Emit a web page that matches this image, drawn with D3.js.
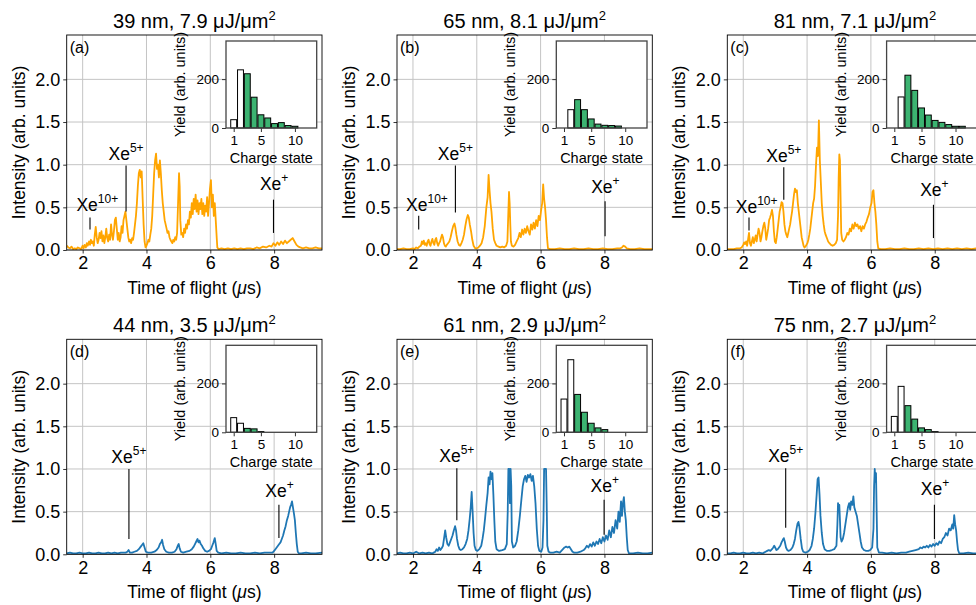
<!DOCTYPE html>
<html><head><meta charset="utf-8">
<script src="https://cdn.jsdelivr.net/npm/d3@7"></script>
<style>
body{margin:0;background:#fff}
svg{display:block}
text{font-family:"Liberation Sans",Arial,Helvetica,sans-serif;fill:#000}
</style>
</head><body><svg id="chart" width="976" height="605"></svg>
<script>
// ---------- data ----------
const xTicks = [2, 4, 6, 8];
const yTicks = [0, 0.5, 1.0, 1.5, 2.0];
const insetXTicks = [1, 5, 10];
const insetYTicks = [0, 200];
const panelLetters = ["(a)", "(b)", "(c)", "(d)", "(e)", "(f)"];
const wavelengths = [39, 65, 81, 44, 61, 75];
const fluences = ["7.9", "8.1", "7.1", "3.5", "2.9", "2.7"];
const charge = [1, 2, 3, 4, 5, 6, 7, 8, 9, 10, 11, 12];
const yieldA = [34, 238, 222, 126, 54, 41, 18, 22, 10, 7, 0, 0];
const yieldB = [0, 75, 116, 75, 37, 16, 11, 10, 8, 0, 0, 0];
const yieldC = [0, 127, 216, 154, 82, 53, 31, 23, 14, 7, 7, 0];
const yieldD = [60, 37, 16, 14, 3, 0, 0, 0, 0, 0, 0, 0];
const yieldE = [136, 297, 155, 82, 37, 18, 11, 0, 0, 0, 0, 0];
const yieldF = [65, 188, 109, 54, 18, 11, 3, 0, 0, 0, 0, 0];

// annotations: [superscript, text x, text baseline y, line x, line top, line bottom]
const annotA = [["10+", 2.46, 0.46, 2.23, 0.38, 0.24], ["5+", 3.36, 1.05, 3.36, 0.99, 0.45], ["+", 8.0, 0.70, 7.98, 0.59, 0.20]];
const annotB = [["10+", 2.44, 0.46, 2.18, 0.40, 0.24], ["5+", 3.33, 1.06, 3.33, 0.99, 0.44], ["+", 8.03, 0.67, 8.02, 0.57, 0.16]];
const annotC = [["10+", 2.42, 0.43, 2.18, 0.38, 0.23], ["5+", 3.27, 1.03, 3.27, 0.97, 0.59], ["+", 7.99, 0.63, 7.96, 0.53, 0.14]];
const annotD = [["5+", 3.45, 1.07, 3.45, 1.00, 0.18], ["+", 8.17, 0.67, 8.15, 0.58, 0.19]];
const annotE = [["5+", 3.375, 1.08, 3.375, 1.01, 0.40], ["+", 8.01, 0.73, 7.99, 0.64, 0.23]];
const annotF = [["5+", 3.33, 1.08, 3.33, 1.01, 0.31], ["+", 8.01, 0.69, 7.99, 0.58, 0.18]];

const tofA = [[1.50,0.05],[1.55,0.03],[1.60,0.02],[1.65,0.04],[1.70,0.01],[1.75,0.02],[1.80,0.01],[1.85,0.03],[1.90,0.02],[1.95,0.01],[2.00,0.05],[2.03,0.02],[2.06,0.06],[2.10,0.03],[2.13,0.08],[2.16,0.05],[2.20,0.10],[2.23,0.06],[2.26,0.12],[2.29,0.08],[2.32,0.10],[2.35,0.05],[2.38,0.18],[2.41,0.27],[2.44,0.15],[2.47,0.08],[2.50,0.12],[2.53,0.20],[2.56,0.14],[2.59,0.22],[2.62,0.10],[2.65,0.17],[2.68,0.08],[2.71,0.15],[2.74,0.25],[2.77,0.14],[2.80,0.10],[2.83,0.18],[2.86,0.12],[2.89,0.30],[2.92,0.18],[2.95,0.12],[2.98,0.22],[3.01,0.35],[3.04,0.38],[3.07,0.25],[3.10,0.12],[3.13,0.20],[3.16,0.10],[3.19,0.15],[3.22,0.28],[3.25,0.20],[3.28,0.35],[3.31,0.40],[3.34,0.45],[3.37,0.35],[3.40,0.25],[3.43,0.15],[3.46,0.10],[3.49,0.12],[3.52,0.08],[3.55,0.14],[3.58,0.12],[3.61,0.20],[3.64,0.30],[3.67,0.40],[3.70,0.55],[3.73,0.75],[3.76,0.90],[3.79,0.94],[3.82,0.85],[3.85,0.92],[3.88,0.60],[3.91,0.30],[3.94,0.10],[3.97,0.03],[4.00,0.05],[4.03,0.08],[4.06,0.12],[4.09,0.10],[4.12,0.18],[4.15,0.25],[4.18,0.40],[4.21,0.65],[4.24,0.90],[4.27,1.05],[4.30,1.13],[4.33,0.95],[4.36,1.00],[4.39,0.85],[4.42,1.05],[4.45,0.90],[4.48,0.70],[4.51,0.55],[4.54,0.45],[4.57,0.35],[4.60,0.30],[4.63,0.25],[4.66,0.20],[4.69,0.22],[4.72,0.15],[4.75,0.12],[4.78,0.10],[4.81,0.08],[4.84,0.12],[4.87,0.10],[4.90,0.15],[4.93,0.12],[4.96,0.20],[4.99,0.55],[5.02,0.90],[5.04,0.75],[5.06,0.35],[5.09,0.18],[5.12,0.20],[5.15,0.15],[5.18,0.25],[5.21,0.20],[5.24,0.30],[5.27,0.25],[5.30,0.35],[5.33,0.30],[5.36,0.45],[5.39,0.38],[5.42,0.55],[5.45,0.42],[5.48,0.60],[5.51,0.48],[5.54,0.65],[5.57,0.45],[5.60,0.58],[5.63,0.42],[5.66,0.55],[5.69,0.48],[5.72,0.60],[5.75,0.42],[5.78,0.55],[5.81,0.40],[5.84,0.52],[5.87,0.45],[5.90,0.62],[5.93,0.40],[5.96,0.55],[5.99,0.72],[6.02,0.82],[6.05,0.50],[6.08,0.65],[6.11,0.40],[6.14,0.55],[6.17,0.35],[6.20,0.15],[6.22,0.03],[6.26,0.01],[6.35,0.02],[6.45,0.01],[6.55,0.02],[6.65,0.01],[6.75,0.02],[6.85,0.01],[6.95,0.02],[7.05,0.01],[7.15,0.02],[7.25,0.02],[7.35,0.01],[7.45,0.03],[7.55,0.02],[7.65,0.04],[7.75,0.03],[7.85,0.05],[7.92,0.04],[7.98,0.08],[8.04,0.05],[8.10,0.09],[8.16,0.06],[8.22,0.10],[8.28,0.07],[8.34,0.11],[8.40,0.08],[8.46,0.10],[8.52,0.12],[8.58,0.14],[8.64,0.10],[8.70,0.06],[8.76,0.04],[8.82,0.03],[8.90,0.02],[9.00,0.03],[9.10,0.02],[9.20,0.02],[9.30,0.03],[9.40,0.02],[9.50,0.02]];

const tofB = [[1.50,0.01],[1.60,0.01],[1.70,0.02],[1.80,0.01],[1.90,0.01],[2.00,0.02],[2.05,0.01],[2.10,0.03],[2.15,0.02],[2.20,0.04],[2.25,0.05],[2.28,0.10],[2.31,0.07],[2.34,0.11],[2.37,0.06],[2.40,0.08],[2.43,0.05],[2.46,0.10],[2.49,0.12],[2.52,0.07],[2.55,0.05],[2.58,0.10],[2.61,0.13],[2.64,0.08],[2.67,0.06],[2.70,0.12],[2.73,0.14],[2.76,0.08],[2.79,0.05],[2.82,0.08],[2.85,0.10],[2.88,0.14],[2.91,0.18],[2.94,0.15],[2.97,0.08],[3.00,0.05],[3.03,0.04],[3.06,0.06],[3.10,0.08],[3.14,0.10],[3.18,0.15],[3.22,0.22],[3.26,0.28],[3.30,0.31],[3.33,0.26],[3.36,0.18],[3.40,0.10],[3.44,0.06],[3.48,0.05],[3.52,0.08],[3.56,0.12],[3.60,0.18],[3.64,0.28],[3.68,0.36],[3.72,0.41],[3.75,0.38],[3.78,0.30],[3.82,0.22],[3.86,0.12],[3.90,0.05],[3.95,0.02],[4.00,0.02],[4.05,0.03],[4.10,0.05],[4.15,0.08],[4.20,0.15],[4.25,0.28],[4.30,0.50],[4.34,0.62],[4.37,0.88],[4.40,0.70],[4.43,0.55],[4.46,0.45],[4.50,0.25],[4.54,0.12],[4.58,0.08],[4.62,0.05],[4.68,0.04],[4.74,0.03],[4.80,0.04],[4.86,0.03],[4.92,0.05],[4.96,0.10],[4.99,0.45],[5.01,0.68],[5.03,0.55],[5.05,0.30],[5.07,0.10],[5.10,0.05],[5.15,0.04],[5.20,0.06],[5.25,0.10],[5.30,0.14],[5.34,0.20],[5.38,0.15],[5.42,0.24],[5.46,0.18],[5.50,0.25],[5.54,0.20],[5.58,0.28],[5.62,0.22],[5.66,0.18],[5.70,0.30],[5.74,0.24],[5.78,0.32],[5.82,0.25],[5.86,0.35],[5.90,0.28],[5.94,0.40],[5.98,0.35],[6.02,0.48],[6.05,0.55],[6.08,0.77],[6.11,0.60],[6.14,0.50],[6.17,0.35],[6.20,0.15],[6.23,0.02],[6.30,0.01],[6.45,0.01],[6.60,0.02],[6.75,0.01],[6.90,0.01],[7.05,0.02],[7.20,0.01],[7.35,0.01],[7.50,0.02],[7.65,0.01],[7.80,0.01],[7.95,0.02],[8.10,0.01],[8.25,0.01],[8.40,0.02],[8.50,0.02],[8.55,0.03],[8.60,0.05],[8.65,0.04],[8.70,0.02],[8.80,0.01],[8.95,0.01],[9.10,0.02],[9.25,0.01],[9.40,0.01],[9.50,0.01]];

const tofC = [[1.50,0.01],[1.60,0.01],[1.70,0.01],[1.80,0.02],[1.90,0.02],[1.95,0.03],[2.00,0.06],[2.03,0.09],[2.06,0.07],[2.09,0.10],[2.12,0.05],[2.15,0.12],[2.18,0.20],[2.21,0.08],[2.24,0.05],[2.27,0.10],[2.30,0.15],[2.33,0.08],[2.36,0.12],[2.39,0.17],[2.42,0.10],[2.45,0.18],[2.48,0.25],[2.51,0.20],[2.54,0.10],[2.57,0.15],[2.60,0.22],[2.63,0.28],[2.66,0.32],[2.69,0.25],[2.72,0.12],[2.75,0.18],[2.78,0.25],[2.81,0.35],[2.84,0.38],[2.87,0.42],[2.90,0.47],[2.93,0.40],[2.96,0.22],[2.99,0.10],[3.02,0.08],[3.05,0.15],[3.08,0.25],[3.11,0.35],[3.14,0.45],[3.17,0.50],[3.20,0.56],[3.23,0.55],[3.26,0.45],[3.29,0.30],[3.32,0.22],[3.35,0.18],[3.38,0.15],[3.41,0.20],[3.44,0.25],[3.47,0.30],[3.50,0.38],[3.53,0.45],[3.56,0.55],[3.59,0.65],[3.62,0.72],[3.65,0.68],[3.68,0.70],[3.71,0.55],[3.74,0.45],[3.77,0.35],[3.80,0.25],[3.83,0.15],[3.86,0.10],[3.89,0.05],[3.92,0.03],[3.95,0.04],[3.98,0.06],[4.01,0.08],[4.04,0.12],[4.07,0.18],[4.10,0.25],[4.13,0.35],[4.16,0.45],[4.19,0.55],[4.22,0.60],[4.25,0.75],[4.28,1.00],[4.31,1.20],[4.34,1.10],[4.37,1.52],[4.40,1.05],[4.43,0.80],[4.46,0.55],[4.49,0.40],[4.52,0.30],[4.55,0.22],[4.58,0.18],[4.62,0.14],[4.66,0.10],[4.70,0.08],[4.75,0.06],[4.80,0.05],[4.85,0.06],[4.90,0.08],[4.94,0.12],[4.97,0.40],[4.99,0.85],[5.01,1.12],[5.03,1.05],[5.05,0.60],[5.07,0.20],[5.10,0.12],[5.14,0.10],[5.18,0.12],[5.22,0.15],[5.26,0.20],[5.30,0.18],[5.34,0.25],[5.38,0.22],[5.42,0.30],[5.46,0.25],[5.50,0.32],[5.54,0.28],[5.58,0.30],[5.62,0.25],[5.66,0.28],[5.70,0.22],[5.74,0.28],[5.78,0.25],[5.82,0.30],[5.86,0.33],[5.90,0.38],[5.94,0.42],[5.98,0.50],[6.02,0.55],[6.05,0.68],[6.08,0.70],[6.11,0.55],[6.14,0.45],[6.17,0.30],[6.20,0.10],[6.23,0.02],[6.30,0.01],[6.45,0.01],[6.60,0.02],[6.75,0.01],[6.90,0.01],[7.05,0.02],[7.20,0.01],[7.35,0.01],[7.50,0.02],[7.65,0.01],[7.80,0.02],[7.95,0.01],[8.10,0.02],[8.25,0.01],[8.40,0.02],[8.55,0.01],[8.70,0.02],[8.85,0.01],[9.00,0.02],[9.15,0.01],[9.30,0.02],[9.50,0.01]];

const tofD = [[1.50,0.01],[1.60,0.02],[1.70,0.01],[1.80,0.01],[1.90,0.02],[2.00,0.01],[2.10,0.01],[2.20,0.02],[2.30,0.01],[2.40,0.01],[2.50,0.02],[2.60,0.01],[2.70,0.01],[2.80,0.02],[2.90,0.01],[3.00,0.02],[3.10,0.01],[3.20,0.02],[3.30,0.02],[3.35,0.02],[3.40,0.03],[3.44,0.05],[3.48,0.02],[3.55,0.02],[3.62,0.03],[3.70,0.04],[3.76,0.06],[3.82,0.09],[3.86,0.11],[3.90,0.13],[3.94,0.08],[3.98,0.03],[4.05,0.02],[4.15,0.02],[4.25,0.03],[4.32,0.05],[4.38,0.08],[4.42,0.12],[4.46,0.14],[4.49,0.17],[4.52,0.11],[4.56,0.06],[4.62,0.03],[4.70,0.02],[4.80,0.02],[4.88,0.03],[4.94,0.06],[4.98,0.10],[5.01,0.12],[5.04,0.07],[5.08,0.03],[5.15,0.02],[5.25,0.03],[5.35,0.04],[5.42,0.06],[5.48,0.09],[5.52,0.12],[5.56,0.15],[5.60,0.18],[5.63,0.14],[5.66,0.16],[5.70,0.12],[5.74,0.10],[5.78,0.07],[5.84,0.04],[5.90,0.03],[5.96,0.04],[6.02,0.06],[6.06,0.10],[6.10,0.14],[6.14,0.19],[6.17,0.12],[6.20,0.04],[6.25,0.02],[6.35,0.01],[6.50,0.02],[6.65,0.01],[6.80,0.01],[6.95,0.02],[7.10,0.01],[7.25,0.01],[7.40,0.02],[7.55,0.01],[7.70,0.02],[7.85,0.02],[7.95,0.02],[8.00,0.04],[8.04,0.06],[8.08,0.08],[8.12,0.10],[8.16,0.12],[8.20,0.14],[8.24,0.18],[8.28,0.22],[8.32,0.28],[8.36,0.33],[8.40,0.40],[8.44,0.45],[8.47,0.50],[8.50,0.55],[8.53,0.58],[8.56,0.62],[8.59,0.55],[8.62,0.48],[8.65,0.40],[8.68,0.25],[8.71,0.12],[8.74,0.03],[8.78,0.01],[8.85,0.01],[9.00,0.02],[9.15,0.01],[9.30,0.01],[9.50,0.02]];

const tofE = [[1.50,0.01],[1.60,0.02],[1.70,0.01],[1.80,0.01],[1.90,0.02],[2.00,0.01],[2.10,0.03],[2.20,0.01],[2.30,0.02],[2.40,0.01],[2.50,0.02],[2.60,0.01],[2.65,0.02],[2.70,0.03],[2.74,0.06],[2.78,0.04],[2.82,0.08],[2.86,0.05],[2.90,0.07],[2.94,0.10],[2.98,0.20],[3.01,0.28],[3.04,0.20],[3.08,0.12],[3.12,0.10],[3.16,0.14],[3.20,0.18],[3.24,0.22],[3.28,0.28],[3.32,0.33],[3.35,0.28],[3.38,0.18],[3.42,0.10],[3.46,0.06],[3.50,0.05],[3.55,0.06],[3.60,0.08],[3.65,0.12],[3.70,0.18],[3.74,0.28],[3.78,0.42],[3.81,0.55],[3.84,0.73],[3.87,0.50],[3.90,0.25],[3.93,0.10],[3.97,0.05],[4.02,0.04],[4.08,0.06],[4.14,0.10],[4.18,0.18],[4.22,0.28],[4.26,0.42],[4.30,0.58],[4.34,0.72],[4.37,0.90],[4.40,0.82],[4.43,0.97],[4.46,0.88],[4.49,0.95],[4.52,0.70],[4.55,0.40],[4.58,0.15],[4.62,0.06],[4.70,0.04],[4.80,0.05],[4.88,0.06],[4.94,0.12],[4.97,0.50],[4.99,1.00],[5.02,1.00],[5.04,0.60],[5.06,1.00],[5.08,0.80],[5.10,0.15],[5.14,0.08],[5.20,0.10],[5.25,0.15],[5.30,0.28],[5.35,0.45],[5.40,0.65],[5.44,0.80],[5.48,0.88],[5.52,0.92],[5.56,0.85],[5.60,0.93],[5.64,0.90],[5.68,0.94],[5.72,0.86],[5.76,0.92],[5.80,0.80],[5.84,0.60],[5.88,0.30],[5.92,0.10],[5.96,0.04],[6.02,0.03],[6.06,0.08],[6.09,0.40],[6.11,1.00],[6.14,1.00],[6.17,1.00],[6.19,0.60],[6.21,0.10],[6.25,0.03],[6.30,0.02],[6.40,0.02],[6.50,0.03],[6.60,0.02],[6.65,0.04],[6.70,0.06],[6.75,0.08],[6.80,0.09],[6.85,0.08],[6.90,0.09],[6.95,0.06],[7.00,0.03],[7.05,0.02],[7.15,0.02],[7.25,0.03],[7.35,0.05],[7.40,0.07],[7.45,0.10],[7.50,0.08],[7.55,0.12],[7.60,0.09],[7.65,0.14],[7.70,0.10],[7.75,0.15],[7.80,0.12],[7.85,0.18],[7.90,0.13],[7.95,0.20],[8.00,0.15],[8.05,0.22],[8.10,0.17],[8.15,0.28],[8.20,0.20],[8.25,0.32],[8.30,0.25],[8.35,0.40],[8.40,0.30],[8.44,0.50],[8.48,0.38],[8.52,0.62],[8.55,0.45],[8.58,0.60],[8.61,0.67],[8.64,0.50],[8.67,0.40],[8.70,0.20],[8.73,0.05],[8.77,0.01],[8.90,0.01],[9.05,0.02],[9.20,0.01],[9.35,0.01],[9.50,0.02]];

const tofF = [[1.50,0.01],[1.60,0.01],[1.70,0.02],[1.80,0.01],[1.90,0.01],[2.00,0.02],[2.10,0.01],[2.20,0.01],[2.30,0.02],[2.40,0.01],[2.50,0.02],[2.60,0.01],[2.65,0.02],[2.70,0.03],[2.75,0.04],[2.80,0.05],[2.85,0.04],[2.90,0.06],[2.94,0.08],[2.97,0.10],[3.00,0.08],[3.04,0.05],[3.08,0.06],[3.12,0.08],[3.16,0.10],[3.20,0.14],[3.24,0.17],[3.27,0.19],[3.30,0.15],[3.34,0.08],[3.38,0.05],[3.42,0.04],[3.48,0.05],[3.54,0.08],[3.58,0.12],[3.62,0.18],[3.66,0.28],[3.70,0.36],[3.73,0.38],[3.76,0.32],[3.80,0.18],[3.84,0.07],[3.88,0.03],[3.95,0.02],[4.02,0.03],[4.08,0.05],[4.14,0.10],[4.18,0.18],[4.22,0.30],[4.26,0.48],[4.30,0.70],[4.33,0.88],[4.36,0.90],[4.39,0.70],[4.42,0.45],[4.46,0.25],[4.50,0.12],[4.55,0.06],[4.62,0.04],[4.70,0.04],[4.78,0.05],[4.85,0.06],[4.92,0.10],[4.95,0.35],[4.97,0.60],[4.99,0.55],[5.01,0.58],[5.03,0.40],[5.05,0.20],[5.08,0.15],[5.12,0.18],[5.16,0.25],[5.20,0.35],[5.24,0.45],[5.28,0.55],[5.32,0.60],[5.35,0.52],[5.38,0.62],[5.42,0.58],[5.45,0.68],[5.48,0.55],[5.52,0.50],[5.56,0.45],[5.60,0.35],[5.64,0.25],[5.68,0.15],[5.72,0.08],[5.78,0.05],[5.85,0.04],[5.92,0.04],[5.98,0.05],[6.04,0.08],[6.08,0.30],[6.10,0.80],[6.12,1.00],[6.14,0.85],[6.16,0.95],[6.18,0.50],[6.20,0.08],[6.25,0.02],[6.35,0.02],[6.50,0.01],[6.65,0.02],[6.80,0.01],[6.95,0.02],[7.10,0.02],[7.20,0.03],[7.30,0.04],[7.40,0.05],[7.50,0.06],[7.55,0.08],[7.60,0.07],[7.65,0.09],[7.70,0.08],[7.75,0.10],[7.80,0.08],[7.85,0.11],[7.90,0.09],[7.95,0.12],[8.00,0.10],[8.05,0.13],[8.10,0.11],[8.15,0.15],[8.20,0.13],[8.25,0.18],[8.30,0.20],[8.35,0.25],[8.40,0.22],[8.45,0.30],[8.50,0.28],[8.55,0.35],[8.58,0.30],[8.61,0.46],[8.64,0.35],[8.67,0.28],[8.70,0.15],[8.73,0.05],[8.77,0.01],[8.90,0.01],[9.05,0.02],[9.20,0.01],[9.35,0.01],[9.50,0.02]];

const traces = [tofA, tofB, tofC, tofD, tofE, tofF];
const yields = [yieldA, yieldB, yieldC, yieldD, yieldE, yieldF];
const annots = [annotA, annotB, annotC, annotD, annotE, annotF];

// ---------- layout ----------
const FONT = '"Liberation Sans", Arial, Helvetica, sans-serif';
const colLeft = [66.7, 397.0, 727.3];
const rowTop = [35.0, 339.3];
const W = 255.3, H = 215;
const traceColor = ["#FFA500", "#FFA500", "#FFA500", "#1f77b4", "#1f77b4", "#1f77b4"];
const svg = d3.select("#chart");

svg.append("defs").append("clipPath").attr("id", "plotclip")
  .append("rect").attr("width", W).attr("height", H);

for (let i = 0; i < 6; i++) {
  const col = i % 3, row = Math.floor(i / 3);
  const g = svg.append("g").attr("transform", `translate(${colLeft[col]},${rowTop[row]})`);
  const x = d3.scaleLinear().domain([1.5, 9.5]).range([0, W]);
  const y = d3.scaleLinear().domain([0, 2.52]).range([H, 0]);

  // grid
  g.append("g").selectAll("line").data(xTicks).join("line")
    .attr("x1", d => x(d)).attr("x2", d => x(d)).attr("y1", 0).attr("y2", H)
    .attr("stroke", "#c4c4c4").attr("stroke-width", 1);
  g.append("g").selectAll("line").data(yTicks).join("line")
    .attr("y1", d => y(d)).attr("y2", d => y(d)).attr("x1", 0).attr("x2", W)
    .attr("stroke", "#c4c4c4").attr("stroke-width", 1);

  // trace
  g.append("path").datum(traces[i])
    .attr("clip-path", "url(#plotclip)")
    .attr("fill", "none").attr("stroke", traceColor[i]).attr("stroke-width", 1.8)
    .attr("stroke-linejoin", "round")
    .attr("d", d3.line().x(d => x(d[0])).y(d => y(d[1])));

  // axes
  const xa = g.append("g").attr("transform", `translate(0,${H})`)
    .call(d3.axisBottom(x).tickValues(xTicks).tickFormat(d3.format("d")).tickSize(3.5).tickPadding(3));
  const ya = g.append("g")
    .call(d3.axisLeft(y).tickValues(yTicks).tickFormat(d3.format(".1f")).tickSize(3.5).tickPadding(3));
  [xa, ya].forEach(a => {
    a.attr("font-family", FONT).attr("font-size", 18);
    a.select(".domain").remove();
    a.selectAll("line").attr("stroke", "#000").attr("stroke-width", 0.8);
  });

  g.append("rect").attr("width", W).attr("height", H)
    .attr("fill", "none").attr("stroke", "#000").attr("stroke-width", 0.9);

  // axis labels
  const xl = g.append("text").attr("x", W / 2).attr("y", H + 44)
    .attr("text-anchor", "middle").attr("font-size", 17.5);
  xl.append("tspan").text("Time of flight (");
  xl.append("tspan").attr("font-style", "italic").text("\u03bc");
  xl.append("tspan").text("s)");
  g.append("text").attr("transform", `translate(-42,${H / 2}) rotate(-90)`)
    .attr("text-anchor", "middle").attr("font-size", 17.5).text("Intensity (arb. units)");

  // title
  const t = g.append("text").attr("x", W / 2).attr("y", -7).attr("text-anchor", "middle").attr("font-size", 20);
  t.append("tspan").text(`${wavelengths[i]} nm, ${fluences[i]} \u03bcJ/\u03bcm`);
  t.append("tspan").attr("font-size", 13).attr("dy", -8).text("2");

  // panel letter
  g.append("text").attr("x", 3).attr("y", 18).attr("font-size", 16).text(panelLetters[i]);

  // annotations
  annots[i].forEach(a => {
    g.append("line").attr("x1", x(a[3])).attr("x2", x(a[3])).attr("y1", y(a[4])).attr("y2", y(a[5]))
      .attr("stroke", "#000").attr("stroke-width", 1.1);
    const at = g.append("text").attr("x", x(a[1])).attr("y", y(a[2])).attr("text-anchor", "middle").attr("font-size", 17.5);
    at.append("tspan").text("Xe");
    at.append("tspan").attr("font-size", 12).attr("dy", -8).text(a[0]);
  });

  // inset
  const iw = 90.7, ih = 87.0;
  const ig = g.append("g").attr("transform", `translate(159.3,6)`);
  const ix = d3.scaleLinear().domain([-0.13, 13.2]).range([0, iw]);
  const iy = d3.scaleLinear().domain([0, 356]).range([ih, 0]);
  ig.append("rect").attr("width", iw).attr("height", ih).attr("fill", "#fff");
  const bw = ix(0.87) - ix(0);
  ig.selectAll("rect.bar").data(charge.map((c, k) => [c, yields[i][k]]).filter(d => d[1] > 0))
    .join("rect").attr("class", "bar")
    .attr("x", d => ix(d[0]) - bw / 2).attr("width", bw)
    .attr("y", d => iy(d[1])).attr("height", d => iy(0) - iy(d[1]))
    .attr("fill", d => d[0] <= 2 ? "#ffffff" : "#3cb371")
    .attr("stroke", "#000").attr("stroke-width", 1);
  const ixa = ig.append("g").attr("transform", `translate(0,${ih})`)
    .call(d3.axisBottom(ix).tickValues(insetXTicks).tickFormat(d3.format("d")).tickSize(4).tickPadding(3));
  const iya = ig.append("g")
    .call(d3.axisLeft(iy).tickValues(insetYTicks).tickFormat(d3.format("d")).tickSize(4).tickPadding(3));
  [ixa, iya].forEach(a => {
    a.attr("font-family", FONT).attr("font-size", 13.5);
    a.select(".domain").remove();
    a.selectAll("line").attr("stroke", "#333").attr("stroke-width", 1);
  });
  ig.append("rect").attr("width", iw).attr("height", ih)
    .attr("fill", "none").attr("stroke", "#444").attr("stroke-width", 1.3);
  ig.append("text").attr("x", iw / 2).attr("y", ih + 35).attr("text-anchor", "middle")
    .attr("font-size", 14.5).text("Charge state");
  ig.append("text").attr("transform", `translate(-41,${ih / 2}) rotate(-90)`)
    .attr("text-anchor", "middle").attr("font-size", 14.5).text("Yield (arb. units)");
}
</script>
</body></html>
